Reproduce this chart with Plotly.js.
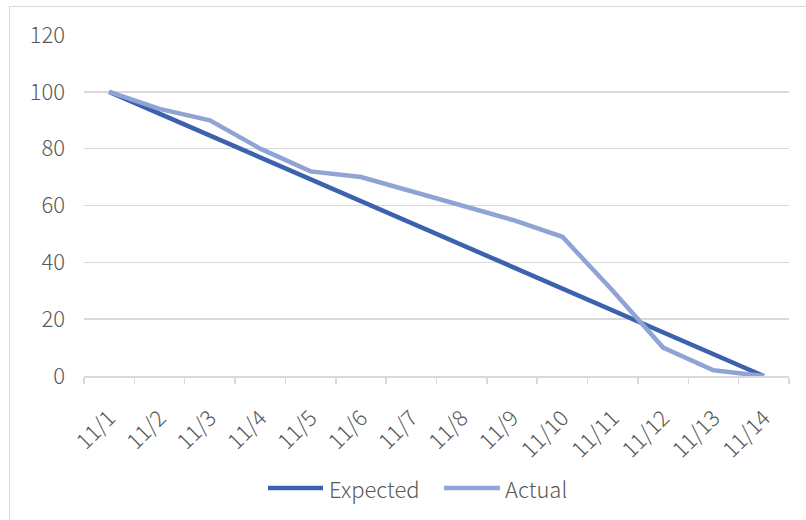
<!DOCTYPE html>
<html><head><meta charset="utf-8">
<script src="https://cdn.plot.ly/plotly-3.0.1.min.js"></script>
<style>
html,body{margin:0;padding:0;background:#fff;}
#wrap{position:relative;width:806px;height:520px;overflow:hidden;}
#chart{width:806px;height:520px;}
#frame{position:absolute;left:9px;top:6px;width:830px;height:560px;border:1.5px solid #d9d9d9;pointer-events:none;}
</style></head><body>
<div id="wrap"><div id="chart"></div><div id="frame"></div></div>
<script>
const dates = ['11/1','11/2','11/3','11/4','11/5','11/6','11/7','11/8','11/9','11/10','11/11','11/12','11/13','11/14'];
const expected = [100, 92.3, 84.6, 76.9, 69.2, 61.5, 53.8, 46.2, 38.5, 30.8, 23.1, 15.4, 7.7, 0];
const actual = [100, 94, 90, 80, 72, 70, 65, 60, 55, 49, 30, 10, 2, 0];
const yTicks = [0, 20, 40, 60, 80, 100, 120];
const seriesNames = ['Expected', 'Actual'];
const seriesColors = ['#3c62ae', '#8fa3d5'];

const fontFam = '"Noto Sans CJK SC", "Noto Sans", sans-serif';
const txt = '#595959';
const fnt = {family: fontFam, color: txt, size: 22, weight: 300};
const traces = [
  {x: dates, y: expected, name: seriesNames[0], type: 'scatter', mode: 'lines',
   line: {color: seriesColors[0], width: 4.5}, showlegend: false},
  {x: dates, y: actual, name: seriesNames[1], type: 'scatter', mode: 'lines',
   line: {color: seriesColors[1], width: 4.5}, showlegend: false}
];
// legend drawn below the plot (paper coordinates)
const legX = [[0.261, 0.339, 0.345], [0.5106, 0.590, 0.594]];
const legY = -0.3284;
const shapes = seriesNames.map((n, i) => ({type: 'line', xref: 'paper', yref: 'paper',
  x0: legX[i][0], x1: legX[i][1], y0: legY, y1: legY, line: {color: seriesColors[i], width: 4.5}}));
const annotations = seriesNames.map((n, i) => ({text: n, xref: 'paper', yref: 'paper',
  x: legX[i][2], y: legY, xanchor: 'left', yanchor: 'middle', showarrow: false, font: fnt}));
const layout = {
  width: 806, height: 520,
  margin: {l: 84, r: 17, t: 35, b: 144},
  paper_bgcolor: '#fff', plot_bgcolor: '#fff',
  font: fnt,
  showlegend: false,
  shapes: shapes, annotations: annotations,
  xaxis: {type: 'category', range: [-0.5, 13.5], showgrid: false,
          showline: true, linecolor: '#d9d9d9', linewidth: 1.5,
          ticks: 'outside', tickson: 'boundaries', ticklen: 6, tickcolor: '#d9d9d9', tickwidth: 1.5,
          tickangle: -45, ticklabelstandoff: 19, tickfont: fnt, fixedrange: true},
  yaxis: {range: [0, 120], tickvals: yTicks, ticktext: yTicks.map(String),
          showgrid: true, gridcolor: '#d9d9d9', gridwidth: 1.5, zeroline: false, showline: false,
          ticks: '', ticklabelstandoff: 18, tickfont: fnt, fixedrange: true}
};
Plotly.newPlot('chart', traces, layout, {displayModeBar: false, staticPlot: true});
</script>
</body></html>
